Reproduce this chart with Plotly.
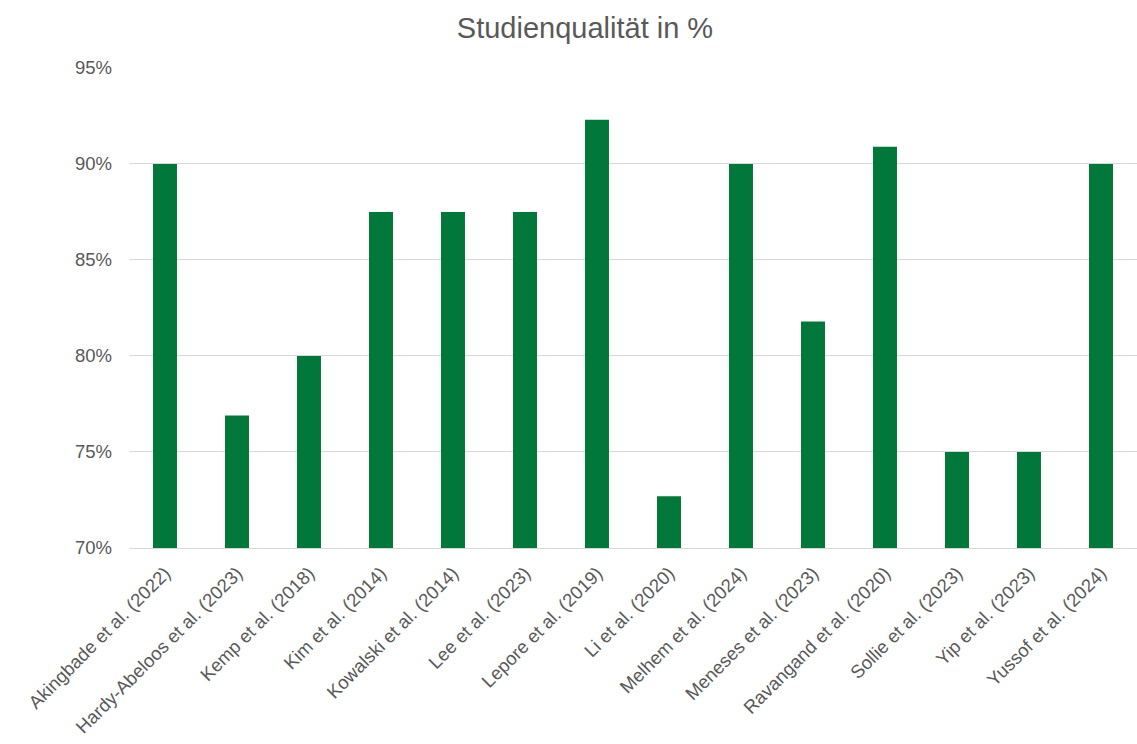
import plotly.graph_objects as go

studies = ["Akingbade et al. (2022)", "Hardy-Abeloos et al. (2023)", "Kemp et al. (2018)",
           "Kim et al. (2014)", "Kowalski et al. (2014)", "Lee et al. (2023)",
           "Lepore et al. (2019)", "Li et al. (2020)", "Melhem et al. (2024)",
           "Meneses et al. (2023)", "Ravangand et al. (2020)", "Sollie et al. (2023)",
           "Yip et al. (2023)", "Yussof et al. (2024)"]
quality = [90.0, 76.9, 80.0, 87.5, 87.5, 87.5, 92.3, 72.7, 90.0, 81.8, 90.9, 75.0, 75.0, 90.0]
y_ticks = [70, 75, 80, 85, 90, 95]
y_tick_labels = ["70%", "75%", "80%", "85%", "90%", "95%"]

fig = go.Figure(go.Bar(x=studies, y=quality, marker_color="#00783A", marker_line_width=0))

fig.update_layout(
    width=1137, height=744,
    margin=dict(l=129, r=0, t=67, b=196),
    paper_bgcolor="white", plot_bgcolor="white",
    bargap=0.667,
    font=dict(family="Liberation Sans, Arial, sans-serif", color="#595959", size=18.5),
    title=dict(text="Studienqualität in %", x=0.5145, xanchor="center", y=0.963, yanchor="middle",
               font=dict(size=29, color="#595959")),
    showlegend=False,
)
fig.update_yaxes(range=[70, 95.05], tickvals=y_ticks, ticktext=y_tick_labels, showgrid=True,
                 gridcolor="#D9D9D9", gridwidth=1.3, zeroline=False, showline=False,
                 ticklabelstandoff=16, tickfont=dict(size=18.5))
fig.update_xaxes(tickangle=-45, showline=True, linecolor="#D9D9D9", linewidth=1.3,
                 ticklabelstandoff=6, tickfont=dict(size=18.5))

fig.write_html("out.html")
